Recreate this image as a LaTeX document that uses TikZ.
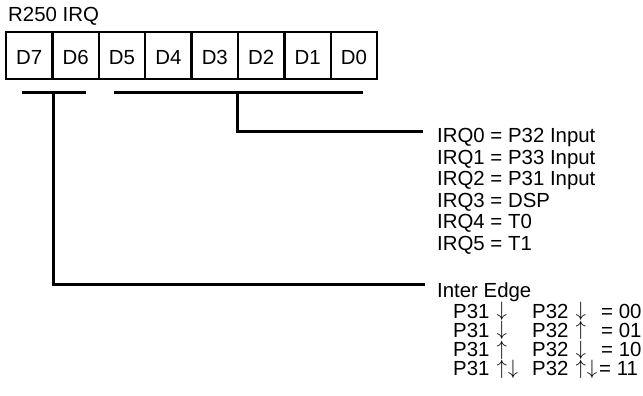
\documentclass[tikz,border=0pt]{standalone}
\usepackage{graphicx}
\usepackage{fontspec}
\setmainfont{Liberation Sans}
\newcommand\ardn{\raisebox{1.5pt}{$\downarrow$}}
\newcommand\arup{\raisebox{1.5pt}{$\uparrow$}}
\begin{document}
\begin{tikzpicture}[x=1pt,y=-1pt,
  txt/.style={anchor=base west, inner sep=0pt, font=\fontsize{20.4}{24}\selectfont},
  cell/.style={draw, line width=2.5pt, minimum width=46.4pt, minimum height=47pt,
    inner sep=0pt, text height=17.3pt, text depth=0pt, font=\fontsize{20.4}{24}\selectfont},
  wire/.style={line width=3pt}]
\useasboundingbox (0,0) rectangle (643,396);
% title
\node[txt] (title) at (8,22) {R250 IRQ};
% register cells
\foreach \b [count=\i from 0] in {7,6,5,4,3,2,1,0}{
  \node[cell] (d\b) at ({6+46.4*(\i+0.5)},55.5) {D\b};
}
% brackets and connectors
\coordinate (lb1) at (22,93);
\coordinate (lb2) at (86,93);
\coordinate (lj) at (53,93);
\coordinate (le) at (425,284);
\coordinate (rb1) at (114,93);
\coordinate (rb2) at (363,93);
\coordinate (rj) at (237,93);
\coordinate (re) at (423,131);
\draw[wire] (lb1) -- (lb2);
\draw[wire] (rb1) -- (rb2);
\draw[wire] (rj) |- (re);
\draw[wire] (lj) |- (le);
% IRQ list
\node[txt] (irq0) at (437,142.5) {IRQ0 = P32 Input};
\node[txt] (irq1) at (437,164.1) {IRQ1 = P33 Input};
\node[txt] (irq2) at (437,185.7) {IRQ2 = P31 Input};
\node[txt] (irq3) at (437,207.3) {IRQ3 = DSP};
\node[txt] (irq4) at (437,228.9) {IRQ4 = T0};
\node[txt] (irq5) at (437,250.5) {IRQ5 = T1};
% Inter edge list
\node[txt] (ie) at (437,297) {Inter Edge};
\node[txt] (a1) at (453,318) {P31\kern7pt\ardn};
\node[txt] (b1) at (532,318) {P32\kern7pt\ardn};
\node[txt] (c1) at (601,318) {= 00};
\node[txt] (a2) at (453,337.3) {P31\kern7pt\ardn};
\node[txt] (b2) at (532,337.3) {P32\kern7pt\arup};
\node[txt] (c2) at (601,337.3) {= 01};
\node[txt] (a3) at (453,356.6) {P31\kern7pt\arup};
\node[txt] (b3) at (532,356.6) {P32\kern7pt\ardn};
\node[txt] (c3) at (601,356.6) {= 10};
\node[txt] (a4) at (453,375.9) {P31\kern7pt\arup\kern1pt\ardn};
\node[txt] (b4) at (532,375.9) {P32\kern7pt\arup\kern1pt\ardn};
\node[txt] (c4) at (599,375.9) {= 11};
\end{tikzpicture}
\end{document}
